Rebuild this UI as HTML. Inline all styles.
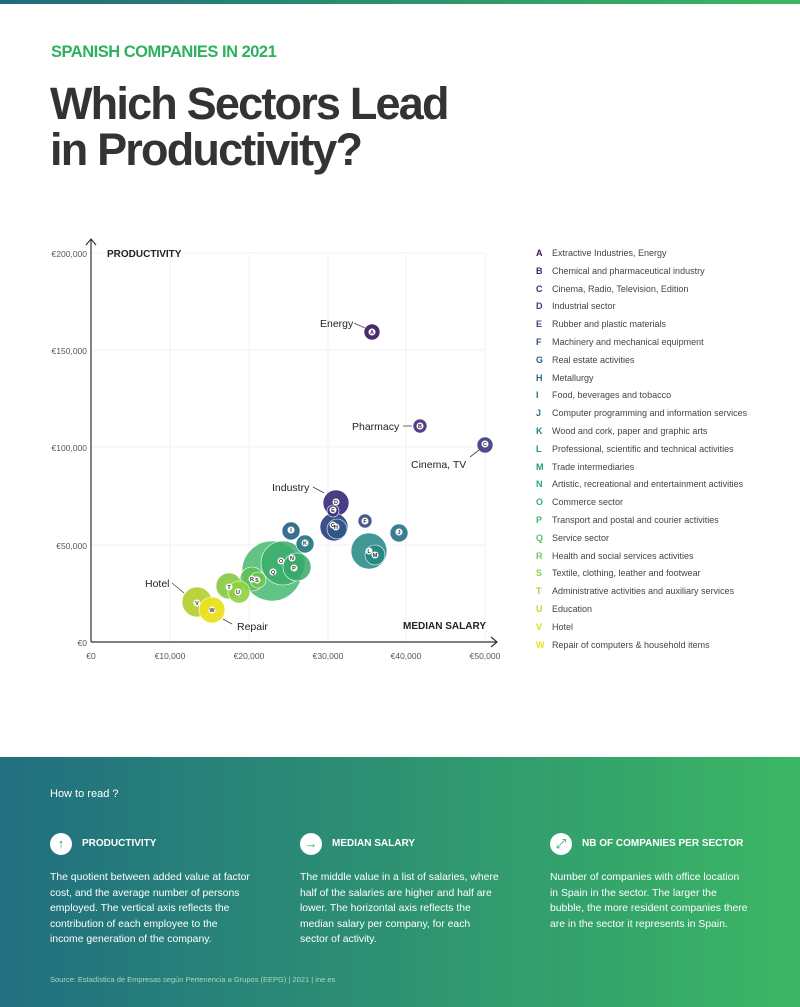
<!DOCTYPE html>
<html><head><meta charset="utf-8"><style>
*{margin:0;padding:0;box-sizing:border-box}
body{width:800px;height:1007px;background:#fff;font-family:"Liberation Sans",sans-serif;position:relative;overflow:hidden;color:#333}
.top{position:absolute;left:0;top:0;width:800px;height:4px;background:linear-gradient(90deg,#1f6b7c,#3bb85f)}
.sub{position:absolute;left:51px;top:43px;font-size:16.5px;font-weight:bold;color:#2eb15e;letter-spacing:-0.5px}
.title{position:absolute;left:50px;top:81px;font-size:45px;line-height:46px;font-weight:bold;color:#333;letter-spacing:-1.8px}
.leg{position:absolute;left:536px;top:248px;font-size:9px;color:#444}
.leg div{height:17.8px;white-space:nowrap}
.leg b{display:inline-block;width:16px;font-size:9px}
.bot{position:absolute;left:0;top:757px;width:800px;height:250px;background:linear-gradient(90deg,#216f80,#3bb664);color:#fff}
.bot .h{position:absolute;left:50px;top:31px;font-size:11px}
.col{position:absolute;top:76px;width:210px}
.ic{width:22px;height:22px;border-radius:50%;background:#fff;color:#2aa860;font-size:13px;text-align:center;line-height:22px;position:absolute;left:0;top:0}
.col .t{position:absolute;left:32px;top:5px;font-size:10px;font-weight:bold;white-space:nowrap}
.col p{position:absolute;left:0;top:37px;font-size:10.4px;line-height:15.6px;width:200px}
.src{position:absolute;left:50px;top:218px;font-size:7.5px;color:#a8d8c0}
</style></head><body>
<div class="top"></div>
<div class="sub">SPANISH COMPANIES IN 2021</div>
<div class="title">Which Sectors Lead<br>in Productivity?</div>
<svg style="position:absolute;left:0;top:0" width="520" height="680" font-family="Liberation Sans,sans-serif">
<g stroke="#f2f2f2" stroke-width="1">
<line x1="170" y1="255" x2="170" y2="642"/><line x1="249" y1="255" x2="249" y2="642"/><line x1="328" y1="255" x2="328" y2="642"/><line x1="406" y1="255" x2="406" y2="642"/><line x1="485" y1="255" x2="485" y2="642"/>
<line x1="91" y1="253" x2="485" y2="253"/><line x1="91" y1="350" x2="485" y2="350"/><line x1="91" y1="447" x2="485" y2="447"/><line x1="91" y1="545" x2="485" y2="545"/>
</g>
<g stroke="#333" stroke-width="1.2" fill="none">
<line x1="91" y1="240" x2="91" y2="642"/><polyline points="86,245 91,239 96,245"/>
<line x1="91" y1="642" x2="497" y2="642"/><polyline points="491,637 497,642 491,647"/>
</g>
<g font-size="8.5" fill="#555" text-anchor="end">
<text x="87" y="257">€200,000</text><text x="87" y="354">€150,000</text><text x="87" y="451">€100,000</text><text x="87" y="549">€50,000</text><text x="87" y="646">€0</text>
</g>
<g font-size="8.5" fill="#555" text-anchor="middle">
<text x="91" y="659">€0</text><text x="170" y="659">€10,000</text><text x="249" y="659">€20,000</text><text x="328" y="659">€30,000</text><text x="406" y="659">€40,000</text><text x="485" y="659">€50,000</text>
</g>
<text x="107" y="257" font-size="10" font-weight="bold" fill="#222">PRODUCTIVITY</text>
<text x="486" y="629" font-size="10" font-weight="bold" fill="#222" text-anchor="end">MEDIAN SALARY</text>
<g stroke="#fff" stroke-width="0.6">
<circle cx="272" cy="571" r="30" fill="#45b86e" fill-opacity="0.85"/>
<circle cx="283" cy="563" r="22" fill="#3aad6c" fill-opacity="0.85"/>
<circle cx="297" cy="567" r="14" fill="#37a86c" fill-opacity="0.85"/>
<circle cx="252" cy="579" r="12" fill="#5fbf55" fill-opacity="0.85"/>
<circle cx="258" cy="580" r="8" fill="#6cc54e" fill-opacity="0.85"/>
<circle cx="229" cy="586" r="13" fill="#86c93e" fill-opacity="0.9"/>
<circle cx="239" cy="592" r="11" fill="#8fd040" fill-opacity="0.9"/>
<circle cx="197" cy="602" r="15" fill="#b5d236" fill-opacity="0.95"/>
<circle cx="212" cy="610" r="13" fill="#ebe11e" fill-opacity="0.95"/>
<circle cx="369" cy="551" r="18" fill="#2e8c8c" fill-opacity="0.9"/>
<circle cx="375" cy="555" r="10" fill="#228a80" fill-opacity="0.9"/>
<circle cx="291" cy="531" r="9" fill="#3a6e8e"/>
<circle cx="305" cy="544" r="9" fill="#36808e"/>
<circle cx="399" cy="533" r="9" fill="#397e92"/>
<circle cx="365" cy="521" r="7" fill="#465a92"/>
<circle cx="336" cy="503" r="13" fill="#4b3c85"/>
<circle cx="334" cy="527" r="14" fill="#3e4f8a"/>
<circle cx="337" cy="529" r="10" fill="#2f588a"/>
<circle cx="333" cy="511" r="6" fill="#363a7f"/>
<circle cx="372" cy="332" r="8" fill="#4a2a74"/>
<circle cx="420" cy="426" r="7" fill="#5b3c8c"/>
<circle cx="485" cy="445" r="8" fill="#4f4a8e"/>
</g>
<g font-size="5.5" font-weight="bold" fill="#333" text-anchor="middle">
<g fill="#fff"><circle cx="372" cy="332" r="3.5"/><circle cx="420" cy="426" r="3.5"/><circle cx="485" cy="444" r="3.5"/><circle cx="336" cy="502" r="3.5"/><circle cx="333" cy="510" r="3.5"/><circle cx="333" cy="525" r="3.5"/><circle cx="336" cy="527" r="3.5"/><circle cx="365" cy="521" r="3.5"/><circle cx="291" cy="530" r="3.5"/><circle cx="399" cy="532" r="3.5"/><circle cx="305" cy="543" r="3.5"/><circle cx="369" cy="551" r="3.5"/><circle cx="375" cy="555" r="3.5"/><circle cx="292" cy="558" r="3.5"/><circle cx="281" cy="561" r="3.5"/><circle cx="294" cy="568" r="3.5"/><circle cx="273" cy="572" r="3.5"/><circle cx="252" cy="579" r="3.5"/><circle cx="257" cy="580" r="3.5"/><circle cx="229" cy="587" r="3.5"/><circle cx="238" cy="592" r="3.5"/><circle cx="197" cy="603" r="3.5"/><circle cx="212" cy="610" r="3.5"/></g>
<text x="372" y="334">A</text><text x="420" y="428">B</text><text x="485" y="446">C</text><text x="336" y="504">D</text><text x="333" y="512">E</text><text x="333" y="527">G</text><text x="336" y="529">H</text><text x="365" y="523">F</text><text x="291" y="532">I</text><text x="399" y="534">J</text><text x="305" y="545">K</text><text x="369" y="553">L</text><text x="375" y="557">M</text><text x="292" y="560">N</text><text x="281" y="563">O</text><text x="294" y="570">P</text><text x="273" y="574">Q</text><text x="252" y="581">R</text><text x="257" y="582">S</text><text x="229" y="589">T</text><text x="238" y="594">U</text><text x="197" y="605">V</text><text x="212" y="612">W</text>
</g>
<g stroke="#444" stroke-width="0.8">
<line x1="354" y1="323" x2="365" y2="328"/><line x1="403" y1="426" x2="412" y2="426"/><line x1="470" y1="457" x2="479" y2="450"/><line x1="313" y1="487" x2="324" y2="493"/><line x1="172" y1="583" x2="184" y2="593"/><line x1="223" y1="619" x2="232" y2="624"/>
</g>
<g font-size="10.5" fill="#222">
<text x="320" y="327">Energy</text><text x="352" y="430">Pharmacy</text><text x="411" y="468">Cinema, TV</text><text x="272" y="491">Industry</text><text x="145" y="587">Hotel</text><text x="237" y="630">Repair</text>
</g>
</svg>
<div class="leg">
<div><b style="color:#3a0f60">A</b>Extractive Industries, Energy</div>
<div><b style="color:#40206f">B</b>Chemical and pharmaceutical industry</div>
<div><b style="color:#3f2e76">C</b>Cinema, Radio, Television, Edition</div>
<div><b style="color:#3a3a7c">D</b>Industrial sector</div>
<div><b style="color:#364681">E</b>Rubber and plastic materials</div>
<div><b style="color:#315284">F</b>Machinery and mechanical equipment</div>
<div><b style="color:#2c5c86">G</b>Real estate activities</div>
<div><b style="color:#286787">H</b>Metallurgy</div>
<div><b style="color:#247187">I</b>Food, beverages and tobacco</div>
<div><b style="color:#217b87">J</b>Computer programming and information services</div>
<div><b style="color:#1e8586">K</b>Wood and cork, paper and graphic arts</div>
<div><b style="color:#1c8f84">L</b>Professional, scientific and technical activities</div>
<div><b style="color:#1f9a82">M</b>Trade intermediaries</div>
<div><b style="color:#25a47d">N</b>Artistic, recreational and entertainment activities</div>
<div><b style="color:#30ae76">O</b>Commerce sector</div>
<div><b style="color:#3fb86e">P</b>Transport and postal and courier activities</div>
<div><b style="color:#52c166">Q</b>Service sector</div>
<div><b style="color:#6cc95a">R</b>Health and social services activities</div>
<div><b style="color:#85d04a">S</b>Textile, clothing, leather and footwear</div>
<div><b style="color:#a2d637">T</b>Administrative activities and auxiliary services</div>
<div><b style="color:#bfdb25">U</b>Education</div>
<div><b style="color:#d7df19">V</b>Hotel</div>
<div><b style="color:#ece21c">W</b>Repair of computers &amp; household items</div>
</div>
<div class="bot">
<div class="h">How to read ?</div>
<div class="col" style="left:50px"><div class="ic">↑</div><div class="t">PRODUCTIVITY</div><p>The quotient between added value at factor cost, and the average number of persons employed. The vertical axis reflects the contribution of each employee to the income generation of the company.</p></div>
<div class="col" style="left:300px"><div class="ic">→</div><div class="t">MEDIAN SALARY</div><p>The middle value in a list of salaries, where half of the salaries are higher and half are lower. The horizontal axis reflects the median salary per company, for each sector of activity.</p></div>
<div class="col" style="left:550px"><div class="ic">⤢</div><div class="t">NB OF COMPANIES PER SECTOR</div><p>Number of companies with office location in Spain in the sector. The larger the bubble, the more resident companies there are in the sector it represents in Spain.</p></div>
<div class="src">Source: Estadística de Empresas según Pertenencia a Grupos (EEPG) | 2021 | ine.es</div>
</div>
</body></html>
